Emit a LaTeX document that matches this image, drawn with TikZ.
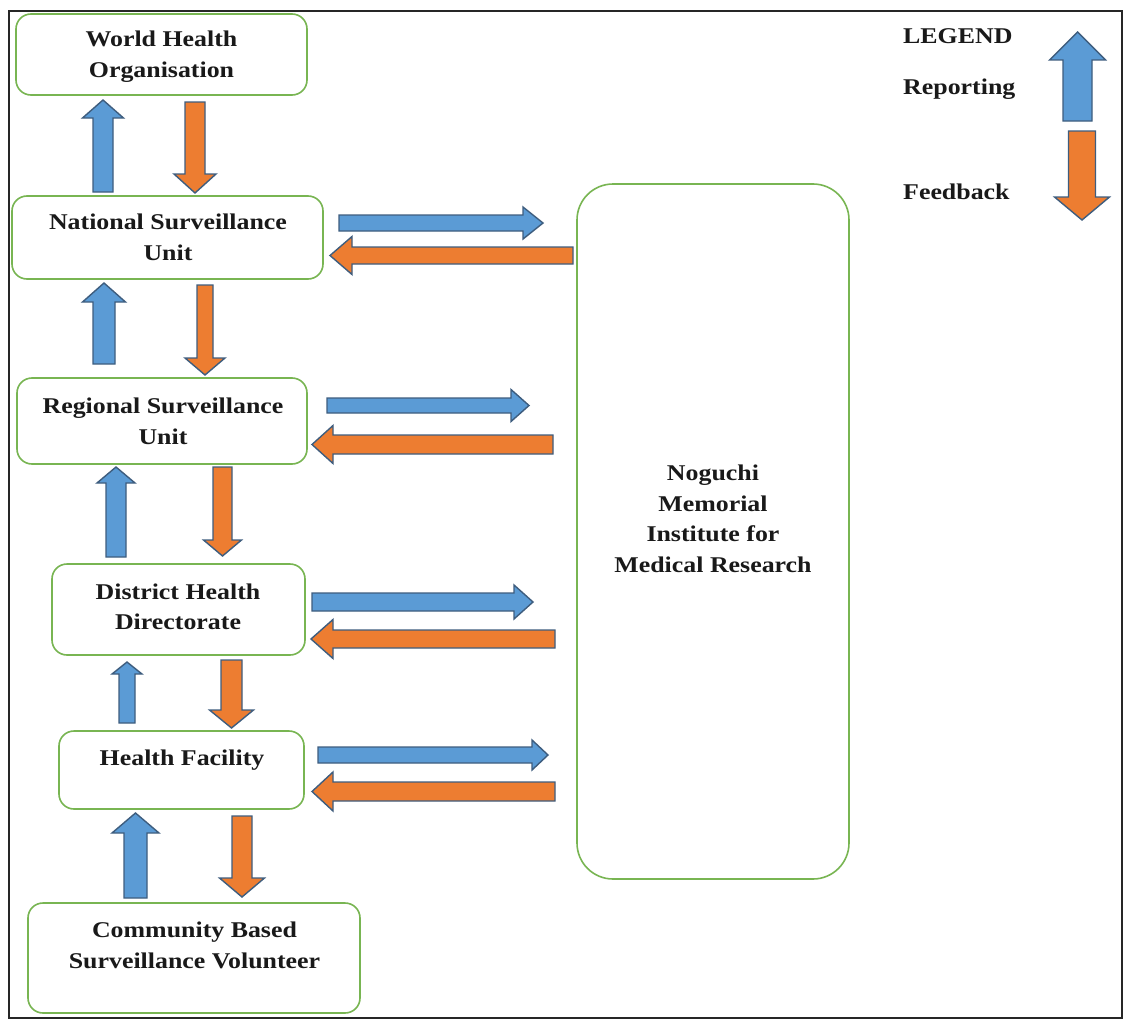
\documentclass[tikz,border=0pt]{standalone}
\usepackage{fontspec}
\setmainfont{Liberation Serif}[FakeStretch=1.15]
\definecolor{boxgreen}{HTML}{78B552}
\definecolor{repblue}{HTML}{5B9BD5}
\definecolor{fborange}{HTML}{ED7D31}
\definecolor{arrline}{HTML}{3E5D7E}
\tikzset{
  box/.style={draw=boxgreen, line width=1.6pt, rounded corners=15pt, fill=white, inner sep=0pt},
  lbl/.style={font=\fontsize{22.5}{30.5}\selectfont\bfseries, align=center, inner sep=0pt, text=black!90},
  rep/.style={fill=repblue, draw=arrline, line width=1.4pt},
  fb/.style={fill=fborange, draw=arrline, line width=1.4pt},
}
% #1 style, #2 centre, #3 tail, #4 tip, #5 body half width, #6 head half width, #7 head length
\newcommand\arrUp[7]{\path[#1] ({#2-#5},#3) -- ({#2-#5},{#4+#7}) -- ({#2-#6},{#4+#7}) -- (#2,#4) -- ({#2+#6},{#4+#7}) -- ({#2+#5},{#4+#7}) -- ({#2+#5},#3) -- cycle;}
\newcommand\arrDown[7]{\path[#1] ({#2-#5},#3) -- ({#2-#5},{#4-#7}) -- ({#2-#6},{#4-#7}) -- (#2,#4) -- ({#2+#6},{#4-#7}) -- ({#2+#5},{#4-#7}) -- ({#2+#5},#3) -- cycle;}
\newcommand\arrRight[7]{\path[#1] (#3,{#2-#5}) -- ({#4-#7},{#2-#5}) -- ({#4-#7},{#2-#6}) -- (#4,#2) -- ({#4-#7},{#2+#6}) -- ({#4-#7},{#2+#5}) -- (#3,{#2+#5}) -- cycle;}
\newcommand\arrLeft[7]{\path[#1] (#3,{#2-#5}) -- ({#4+#7},{#2-#5}) -- ({#4+#7},{#2-#6}) -- (#4,#2) -- ({#4+#7},{#2+#6}) -- ({#4+#7},{#2+#5}) -- (#3,{#2+#5}) -- cycle;}
\begin{document}
\begin{tikzpicture}[x=1pt,y=-1pt]
\useasboundingbox (0,0) rectangle (1133,1025);
\fill[white] (0,0) rectangle (1133,1025);
\draw[line width=2pt, black!85] (9,11) rectangle (1122,1018);

% boxes
\node[box, minimum width=291pt, minimum height=81pt] (who) at (161.5,54.5) {};
\node[box, minimum width=311pt, minimum height=83pt] (nat) at (167.5,237.5) {};
\node[box, minimum width=290pt, minimum height=86pt] (reg) at (162,421) {};
\node[box, minimum width=253pt, minimum height=91pt] (dis) at (178.5,609.5) {};
\node[box, minimum width=245pt, minimum height=78pt] (hf) at (181.5,770) {};
\node[box, minimum width=332pt, minimum height=110pt] (com) at (194,958) {};
\node[box, rounded corners=36pt, minimum width=272pt, minimum height=695pt] (nog) at (713,531.5) {};

% texts
\node[lbl] (whoT) at (161.5,55.9) {\strut World Health\\\strut Organisation};
\node[lbl] (natT) at (168,238.9) {\strut National Surveillance\\\strut Unit};
\node[lbl] (regT) at (163,422.9) {\strut Regional Surveillance\\\strut Unit};
\node[lbl] (disT) at (178,608.6) {\strut District Health\\\strut Directorate};
\node[lbl] (hfT) at (182,758.9) {\strut Health Facility};
\node[lbl] (comT) at (194.5,946.7) {\strut Community Based\\\strut Surveillance Volunteer};
\node[lbl] (nogT) at (713,520.4) {\strut Noguchi\\\strut Memorial\\\strut Institute for\\\strut Medical Research};

% legend
\node[lbl, anchor=west] (legT) at (903,37.2) {\strut LEGEND};
\node[lbl, anchor=west] (repT) at (903,88.9) {\strut Reporting};
\node[lbl, anchor=west] (fbT) at (903,193.2) {\strut Feedback};
\arrUp{rep}{1077.5}{121}{32}{14.5}{28}{28}
\arrDown{fb}{1082}{131}{220}{13.5}{27.5}{23}

% vertical reporting arrows
\arrUp{rep}{103}{192}{100}{10}{20.5}{18}
\arrUp{rep}{104}{364}{283}{11}{21.5}{19}
\arrUp{rep}{116}{557}{467}{10}{19}{16}
\arrUp{rep}{127}{723}{662}{8}{15}{12}
\arrUp{rep}{135.5}{898}{813}{11.5}{23.5}{20}

% vertical feedback arrows
\arrDown{fb}{195}{102}{193}{10}{21}{19}
\arrDown{fb}{205}{285}{375}{8}{20}{17}
\arrDown{fb}{222.5}{467}{556}{9.5}{19}{16}
\arrDown{fb}{231.5}{660}{728}{10.5}{22}{18}
\arrDown{fb}{242}{816}{897}{10}{22.5}{19}

% horizontal reporting arrows
\arrRight{rep}{223}{339}{543}{8}{16}{20}
\arrRight{rep}{405.5}{327}{529}{7.5}{16}{18}
\arrRight{rep}{602}{312}{533}{9}{17}{19}
\arrRight{rep}{755}{318}{548}{8}{15}{16}

% horizontal feedback arrows
\arrLeft{fb}{255.5}{573}{330}{8.5}{19}{22}
\arrLeft{fb}{444.5}{553}{312}{9.5}{19}{21}
\arrLeft{fb}{639}{555}{311}{9}{19.5}{22}
\arrLeft{fb}{791.5}{555}{312}{9.5}{19.5}{21}
\end{tikzpicture}
\end{document}
